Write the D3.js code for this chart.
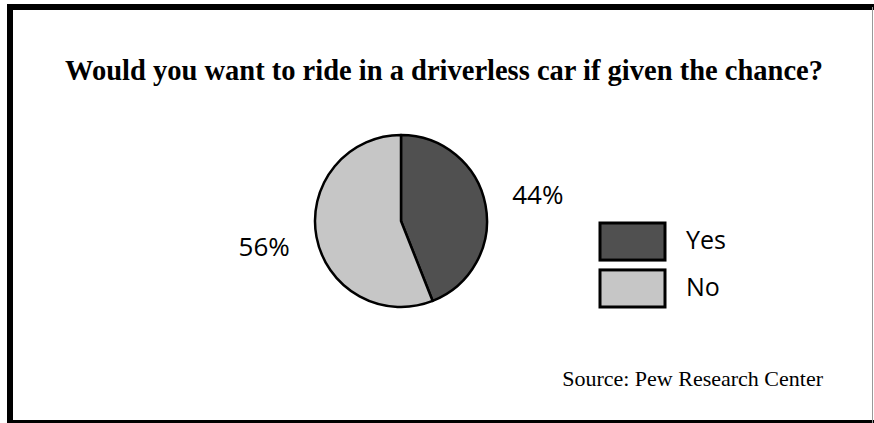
<!DOCTYPE html>
<html>
<head>
<meta charset="utf-8">
<script src="https://cdn.jsdelivr.net/npm/d3@7"></script>
<style>
  html, body { margin: 0; padding: 0; background: #fff; }
  svg { display: block; }
</style>
</head>
<body>
<div id="chart"></div>
<script>
// data //
var categories = ["Yes", "No"];
var values = [44, 56];
var pctLabels = ["44%", "56%"];
var colors = ["#505050", "#c6c6c6"];
var title = "Would you want to ride in a driverless car if given the chance?";
var source = "Source: Pew Research Center";

const W = 874, H = 423;

const svg = d3.select("#chart")
  .append("svg")
  .attr("width", W)
  .attr("height", H);

svg.append("rect").attr("width", W).attr("height", H).attr("fill", "#fff");

// frame
svg.append("path")
  .attr("d", `M10,${H} V7 H${W}`)
  .attr("fill", "none")
  .attr("stroke", "#000")
  .attr("stroke-width", 6);
svg.append("line")
  .attr("x1", 10).attr("x2", W).attr("y1", 421.5).attr("y2", 421.5)
  .attr("stroke", "#000").attr("stroke-width", 3);
svg.append("line")
  .attr("x1", 872.5).attr("x2", 872.5).attr("y1", 7).attr("y2", H)
  .attr("stroke", "#999").attr("stroke-width", 1);

// title
svg.append("text")
  .attr("x", 444)
  .attr("y", 80)
  .attr("text-anchor", "middle")
  .style("font-family", "'Liberation Serif', 'Times New Roman', serif")
  .style("font-weight", "bold")
  .style("font-size", "28.5px")
  .text(title);

// pie
const cx = 401, cy = 221, r = 86;
const pie = d3.pie().sort(null).value(d => d.v);
const arc = d3.arc().innerRadius(0).outerRadius(r);
const rows = categories.map((c, i) => ({ cat: c, v: values[i], label: pctLabels[i], color: colors[i] }));
const arcs = pie(rows);

const g = svg.append("g").attr("transform", `translate(${cx},${cy})`);
g.selectAll("path.slice")
  .data(arcs)
  .join("path")
  .attr("class", "slice")
  .attr("d", arc)
  .attr("fill", d => d.data.color)
  .attr("stroke", "#000")
  .attr("stroke-width", 2.5)
  .attr("stroke-linejoin", "round");

// percentage labels placed outside the pie
const labelArc = d3.arc().innerRadius(r * 1.62).outerRadius(r * 1.62);
g.selectAll("text.pct")
  .data(arcs)
  .join("text")
  .attr("class", "pct")
  .attr("x", d => labelArc.centroid(d)[0])
  .attr("y", d => labelArc.centroid(d)[1])
  .attr("text-anchor", "middle")
  .attr("dy", "0.35em")
  .style("font-family", "'Open Sans', 'Noto Sans', sans-serif")
  .style("font-size", "26px")
  .text(d => d.data.label);

// legend
const legend = svg.append("g").attr("transform", "translate(600,223)");
const ly = d3.scaleBand().domain(categories).range([0, 84]).paddingInner(0.21);
const item = legend.selectAll("g.item")
  .data(rows)
  .join("g")
  .attr("class", "item")
  .attr("transform", d => `translate(0,${ly(d.cat)})`);
item.append("rect")
  .attr("width", 65)
  .attr("height", ly.bandwidth())
  .attr("fill", d => d.color)
  .attr("stroke", "#000")
  .attr("stroke-width", 3);
item.append("text")
  .attr("x", 86)
  .attr("y", ly.bandwidth() / 2)
  .attr("dy", "0.3em")
  .style("font-family", "'Open Sans', 'Noto Sans', sans-serif")
  .style("font-size", "25px")
  .text(d => d.cat);

// source
svg.append("text")
  .attr("x", 823)
  .attr("y", 386)
  .attr("text-anchor", "end")
  .style("font-family", "'Liberation Serif', 'Times New Roman', serif")
  .style("font-size", "22px")
  .text(source);
</script>
</body>
</html>
